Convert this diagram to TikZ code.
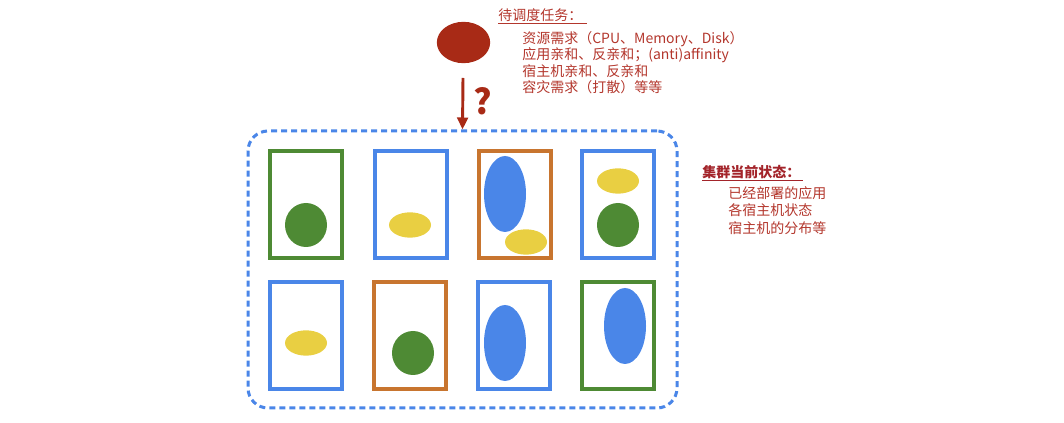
\documentclass[tikz,border=0pt]{standalone}
\usepackage{fontspec}
\setmainfont{Noto Sans CJK SC}
\usetikzlibrary{shapes.geometric,arrows.meta}
\definecolor{hgreen}{HTML}{4E8A34}
\definecolor{hblue}{HTML}{4A86E8}
\definecolor{horange}{HTML}{C8752F}
\definecolor{hyellow}{HTML}{E9CF42}
\definecolor{taskred}{HTML}{A82A16}
\definecolor{txtred}{HTML}{B3362C}
\definecolor{txtred2}{HTML}{A3242A}
\tikzset{
  host/.style={draw=#1,line width=2.3pt,minimum width=54pt,minimum height=80.25pt,inner sep=0pt},
  pod/.style={ellipse,fill=#1,inner sep=0pt},
  greenpod/.style={pod=hgreen,minimum width=31.5pt,minimum height=33pt},
  yellowpod/.style={pod=hyellow,minimum width=31.5pt,minimum height=19pt},
  bluepod/.style={pod=hblue,minimum width=31.5pt,minimum height=57pt},
  txt/.style={anchor=west,inner sep=0pt,text=txtred,font=\fontsize{10.5pt}{12pt}\selectfont},
  ttl/.style={txt,text=#1},
}
\begin{document}
\begin{tikzpicture}[x=0.75pt,y=-0.75pt]
\useasboundingbox (0,0) rectangle (1064,423);
% pending task
\node[ellipse,fill=taskred,minimum width=40pt,minimum height=31pt,inner sep=0pt] (task) at (463.5,42.5) {};
\node[ttl=txtred] (t1) at (498,15) {待调度任务：};
\draw[txtred,line width=0.8pt] ([yshift=-1pt]t1.south west) -- ([xshift=3pt,yshift=-1pt]t1.south east);
\node[txt] (l1) at (522,39) {资源需求（CPU、Memory、Disk）};
\node[txt] (l2) at (522,55) {应用亲和、反亲和；(anti)affinity};
\node[txt] (l3) at (522,71) {宿主机亲和、反亲和};
\node[txt] (l4) at (522,87) {容灾需求（打散）等等};
% cluster
\node[draw=hblue,line width=2.25pt,dash pattern=on 4.5pt off 3pt,rounded corners=15pt,minimum width=321.75pt,minimum height=207.75pt,inner sep=0pt] (cluster) at (462.5,269.5) {};
\coordinate (qtop) at (463,78);
\draw[taskred,line width=2.2pt,-{Triangle[length=9pt,width=8pt]}] (qtop) -- (cluster.north);
\node[text=taskred,font=\fontsize{26pt}{30pt}\selectfont\bfseries,inner sep=0pt] (q) at (483,101) {?};
% hosts top row
\node[host=hgreen] (h1) at (306,204.5) {};
\node[host=hblue] (h2) at (411,204.5) {};
\node[host=horange] (h3) at (515,204.5) {};
\node[host=hblue] (h4) at (618,204.5) {};
% hosts bottom row
\node[host=hblue] (h5) at (306,335.5) {};
\node[host=horange] (h6) at (410,335.5) {};
\node[host=hblue] (h7) at (514,335.5) {};
\node[host=hgreen] (h8) at (618,335.5) {};
% pods
\node[greenpod] (p1) at (306,225) {};
\node[yellowpod] (p2) at (410,225) {};
\node[bluepod] (p3a) at (505,194) {};
\node[yellowpod] (p3b) at (526,242) {};
\node[yellowpod] (p4a) at (618,181) {};
\node[greenpod] (p4b) at (618,225) {};
\node[yellowpod] (p5) at (306,343) {};
\node[greenpod] (p6) at (413,353) {};
\node[bluepod] (p7) at (505,343) {};
\node[bluepod] (p8) at (625,326) {};
% cluster state
\node[ttl=txtred2,font=\fontsize{10.5pt}{12pt}\selectfont\bfseries] (t2) at (702,172) {集群当前状态：};
\draw[txtred2,line width=0.8pt] ([yshift=-1pt]t2.south west) -- ([xshift=2pt,yshift=-1pt]t2.south east);
\node[txt] (s1) at (728,193) {已经部署的应用};
\node[txt] (s2) at (728,210.5) {各宿主机状态};
\node[txt] (s3) at (728,228) {宿主机的分布等};
\end{tikzpicture}
\end{document}
